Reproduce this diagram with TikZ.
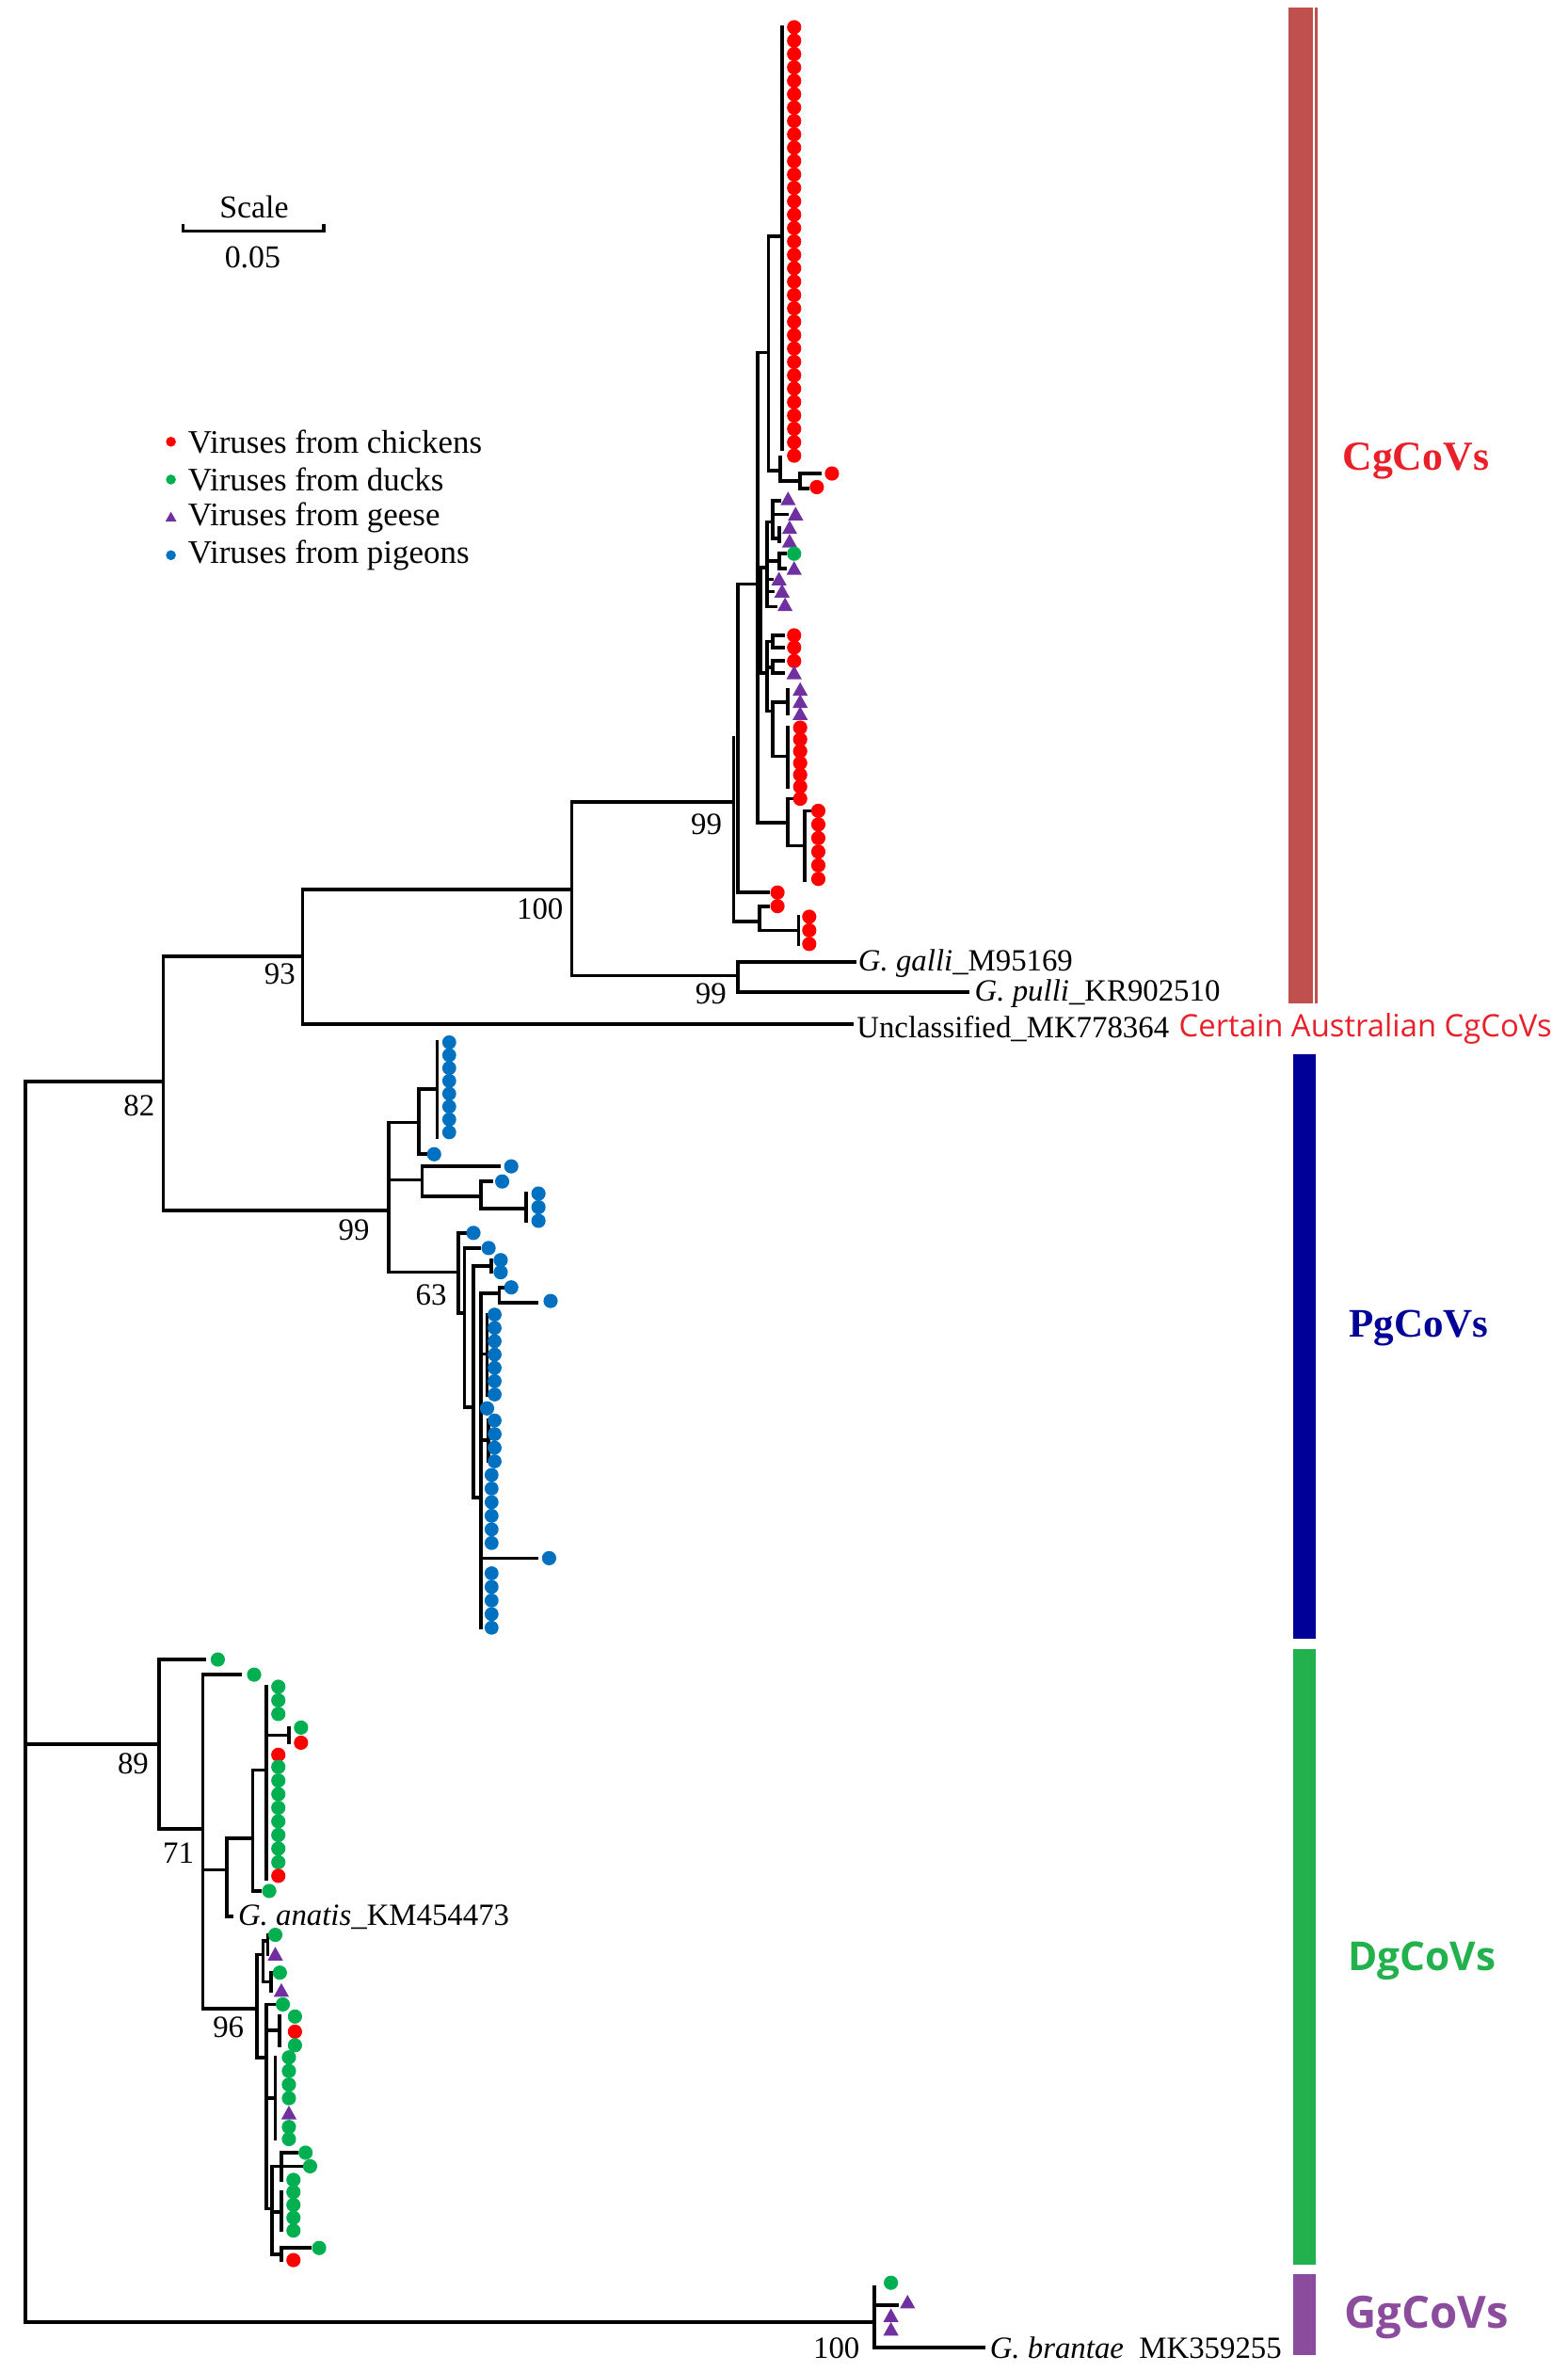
\documentclass[tikz,border=0pt]{standalone}
\usepackage{fontspec}
\setmainfont{Liberation Serif}
\newfontfamily\sansf{Open Sans}
\definecolor{cR}{HTML}{FF0000}
\definecolor{cG}{HTML}{00B050}
\definecolor{cPu}{HTML}{7030A0}
\definecolor{cB}{HTML}{0070C0}
\definecolor{barR}{HTML}{C0504D}
\definecolor{barB}{HTML}{000099}
\definecolor{barG}{HTML}{22B14C}
\definecolor{barP}{HTML}{8B4C9E}
\definecolor{txtR}{HTML}{E8202A}
\newcommand\tV[3]{\draw[tr] (#1,#2) -- (#1,#3);}
\newcommand\tH[3]{\draw[tr] (#2,#1) -- (#3,#1);}
\newcommand\Dt[3]{\fill[#1] (#2,#3) circle (2.15pt);}
\newcommand\Tri[2]{\fill[cPu] (#1,#2) ++(0pt,2.3pt) -- ++(-2.3pt,-4.1pt) -- ++(4.6pt,0pt) -- cycle;}
\begin{document}
\begin{tikzpicture}[x=0.016cm,y=-0.016cm,
  tr/.style={line width=1.05pt,line cap=rect},
  lab/.style={font=\fontsize{9.3}{11}\selectfont,inner sep=0pt},
  tip/.style={lab,anchor=west}]
\useasboundingbox (0,0) rectangle (1036,1568);

% ---------- scale bar ----------
\draw[line width=0.9pt] (121,148) -- (121,153) -- (214,153) -- (214,148);
\node[lab,font=\fontsize{9.6}{11}\selectfont] (scl) at (168,137) {Scale};
\node[lab,font=\fontsize{9.6}{11}\selectfont] (sclv) at (167,170) {0.05};

% ---------- legend ----------
\fill[cR] (113,292) circle (1.5pt);
\fill[cG] (113,317) circle (1.5pt);
\fill[cPu] (113,342) ++(0pt,1.7pt) -- ++(-1.7pt,-3pt) -- ++(3.4pt,0pt) -- cycle;
\fill[cB] (113,367) circle (1.5pt);
\node[lab,font=\fontsize{9.9}{11}\selectfont,anchor=west] (l1) at (124,292) {Viruses from chickens};
\node[lab,font=\fontsize{9.9}{11}\selectfont,anchor=west] (l2) at (124,317) {Viruses from ducks};
\node[lab,font=\fontsize{9.9}{11}\selectfont,anchor=west] (l3) at (124,342) {Viruses from geese};
\node[lab,font=\fontsize{9.9}{11}\selectfont,anchor=west] (l4) at (124,367) {Viruses from pigeons};

% ---------- backbone ----------
\tV{17}{715}{1535}
\tH{715}{17}{108}
\tH{1153}{17}{105}
\tH{1535}{17}{578}
\tV{108}{632}{800}
\tH{632}{108}{200}
\tH{800}{108}{257}
\tV{200}{588}{677}
\tH{588}{200}{378}
\tH{677}{200}{563}
\tV{378}{530}{645}
\tH{530}{378}{485}
\tH{645}{378}{488}
\tV{488}{636}{656}
\tH{636}{488}{565}
\tH{656}{488}{640}

% ---------- CgCoV clade ----------
\tV{485}{488}{609}
\tV{488}{386}{590}
\tH{386}{488}{501}
\tH{590}{488}{508} \Dt{cR}{514}{590}
\tH{609}{485}{502}
\tV{502}{599}{615}
\tH{599}{502}{508} \Dt{cR}{514}{599}
\tH{615}{502}{528}
\tV{528}{606}{624}
\Dt{cR}{535}{606} \Dt{cR}{535}{615} \Dt{cR}{535}{624}
% node C
\tV{501}{233}{544}
\tH{233}{501}{508}
\tV{508}{156}{311}
\tH{156}{508}{517}
\tV{517}{18}{297}
\foreach \k in {0,...,32} {\fill[cR] (525,18+8.85*\k) circle (2.15pt);}
\tH{311}{508}{516}
\tV{516}{302}{318}
\tH{318}{516}{529}
\tV{529}{313}{323}
\tH{313}{529}{542} \Dt{cR}{550}{313}
\tH{323}{529}{534} \Dt{cR}{540}{322}
% geese group
\tH{411}{501}{503}
\tV{503}{375}{445}
\tH{375}{503}{507}
\tV{507}{345}{401}
\tH{345}{507}{511}
\tV{511}{331}{356}
\tH{331}{511}{515} \Tri{521}{330}
\tH{340}{511}{520} \Tri{526}{340}
\tH{356}{511}{515}
\tV{515}{349}{358} \Tri{522}{349} \Tri{522}{358}
\tH{371}{507}{515}
\tV{515}{366}{376}
\tH{366}{515}{519} \Dt{cG}{525}{366}
\tH{376}{515}{519} \Tri{525}{376}
\tH{383}{507}{510} \Tri{515}{383}
\tH{391}{507}{511} \Tri{517}{391}
\tH{401}{507}{513} \Tri{519}{400}
% red group
\tH{445}{503}{507}
\tV{507}{424}{470}
\tH{424}{507}{511}
\tV{511}{420}{428}
\tH{420}{511}{518} \Dt{cR}{525}{420}
\tH{428}{511}{518} \Dt{cR}{525}{428}
\tH{441}{507}{511}
\tV{511}{437}{445}
\tH{437}{511}{518} \Dt{cR}{525}{437}
\tH{445}{511}{518} \Tri{525}{445}
\tH{470}{507}{511}
\tV{511}{464}{500}
\tH{464}{511}{521}
\tV{521}{456}{472}
\Tri{529}{456} \Tri{529}{464} \Tri{529}{472}
\tH{500}{511}{521}
\tV{521}{481}{520}
\foreach \k in {0,...,5} {\fill[cR] (529,481+7.8*\k) circle (2.15pt);}
\tH{544}{501}{521}
\tV{521}{528}{559}
\tH{528}{521}{524} \Dt{cR}{529}{528}
\tH{559}{521}{532}
\tV{532}{536}{582}
\tH{536}{532}{537}
\foreach \k in {0,...,5} {\fill[cR] (541,536+9*\k) circle (2.15pt);}

% ---------- PgCoV clade ----------
\tV{257}{742}{841}
\tH{742}{257}{277}
\tV{277}{720}{763}
\tH{720}{277}{289}
\tV{289}{689}{752}
\foreach \k in {0,...,7} {\fill[cB] (297,689+8.5*\k) circle (2.1pt);}
\tH{763}{277}{282} \Dt{cB}{287}{763}
\tH{780}{257}{279}
\tV{279}{771}{791}
\tH{771}{279}{330} \Dt{cB}{338}{771}
\tH{791}{279}{318}
\tV{318}{781}{799}
\tH{781}{318}{325} \Dt{cB}{332}{781}
\tH{799}{318}{348}
\tV{348}{789}{807}
\Dt{cB}{356}{789} \Dt{cB}{356}{798} \Dt{cB}{356}{807}
% node 63
\tH{841}{257}{303}
\tV{303}{815}{868}
\tH{815}{303}{308} \Dt{cB}{313}{815}
\tH{868}{303}{307}
\tV{307}{825}{930}
\tH{825}{307}{317} \Dt{cB}{323}{825}
\tH{930}{307}{313}
\tV{313}{837}{990}
\tH{837}{313}{325}
\tV{325}{833}{841}
\Dt{cB}{331}{833} \Dt{cB}{331}{841}
\tH{990}{313}{318}
\tV{318}{855}{1076}
\tH{855}{318}{330}
\tV{330}{851}{861}
\tH{851}{330}{333} \Dt{cB}{338}{851}
\tH{861}{330}{355} \Dt{cB}{364}{860}
\tH{895}{318}{322}
\tV{322}{869}{922}
\foreach \k in {0,...,6} {\fill[cB] (327,869+8.8*\k) circle (2.1pt);}
\Dt{cB}{322}{931}
\tH{952}{318}{323}
\tV{323}{939}{966}
\foreach \k in {0,...,3} {\fill[cB] (327,939+9*\k) circle (2.1pt);}
\foreach \k in {0,...,5} {\fill[cB] (325,975+9*\k) circle (2.1pt);}
\tH{1030}{318}{355} \Dt{cB}{363}{1030}
\foreach \k in {0,...,4} {\fill[cB] (325,1040+9*\k) circle (2.1pt);}

% ---------- DgCoV clade ----------
\tV{105}{1097}{1209}
\tH{1097}{105}{135} \Dt{cG}{144}{1097}
\tH{1209}{105}{134}
\tV{134}{1107}{1328}
\tH{1107}{134}{159} \Dt{cG}{168}{1107}
\tH{1236}{134}{150}
\tV{150}{1215}{1267}
\tH{1267}{150}{153}
\tH{1215}{150}{167}
\tV{167}{1170}{1250}
\tH{1250}{167}{172} \Dt{cG}{178}{1250}
\tH{1170}{167}{176}
\tV{176}{1115}{1242}
\Dt{cG}{184}{1115} \Dt{cG}{184}{1124} \Dt{cG}{184}{1133}
\tH{1147}{176}{191}
\tV{191}{1142}{1152}
\Dt{cG}{199}{1142} \Dt{cR}{199}{1152}
\Dt{cR}{184}{1160}
\foreach \k in {0,...,7} {\fill[cG] (184,1168+9*\k) circle (2.15pt);}
\Dt{cR}{184}{1240}
% node 96
\tH{1328}{134}{170}
\tV{170}{1292}{1360}
\tH{1292}{170}{174}
\tV{174}{1283}{1310}
\tH{1283}{174}{177}
\tV{177}{1279}{1292}
\Dt{cG}{182}{1279} \Tri{182}{1292}
\tH{1310}{174}{179}
\tV{179}{1304}{1316}
\Dt{cG}{185}{1304} \Tri{186}{1316}
\tH{1360}{170}{176}
\tV{176}{1325}{1460}
\tH{1325}{176}{181} \Dt{cG}{187}{1325}
\tH{1342}{176}{185}
\tV{185}{1333}{1352}
\Dt{cG}{195}{1333} \Dt{cR}{195}{1343} \Dt{cG}{195}{1352}
\tH{1387}{176}{182}
\tV{182}{1360}{1414}
\Dt{cG}{191}{1360} \Dt{cG}{191}{1369} \Dt{cG}{191}{1378} \Dt{cG}{191}{1387}
\Tri{191}{1397} \Dt{cG}{191}{1406} \Dt{cG}{191}{1414}
\tH{1460}{176}{180}
\tV{180}{1432}{1490}
\tH{1432}{180}{186}
\tV{186}{1423}{1441}
\tH{1423}{186}{196} \Dt{cG}{202}{1423}
\tH{1432}{186}{199} \Dt{cG}{205}{1432}
\Dt{cG}{194}{1441}
\tH{1462}{180}{186}
\tV{186}{1449}{1474}
\foreach \k in {0,...,3} {\fill[cG] (194,1449+8.5*\k) circle (2.15pt);}
\tH{1490}{180}{186}
\tV{186}{1486}{1494}
\tH{1486}{186}{205} \Dt{cG}{211}{1486}
\Dt{cR}{194}{1494}

% ---------- GgCoV clade ----------
\tV{578}{1512}{1552}
\Dt{cG}{589}{1509}
\tH{1524}{578}{593} \Tri{600}{1522}
\Tri{589}{1531} \Tri{589}{1540}
\tH{1552}{578}{650}

% ---------- support values ----------
\node[lab] (b82) at (92,731) {82};
\node[lab] (b93) at (185,644) {93};
\node[lab] (b100a) at (357,601) {100};
\node[lab] (b99a) at (467,545) {99};
\node[lab] (b99b) at (470,657) {99};
\node[lab] (b99c) at (234,813) {99};
\node[lab] (b63) at (285,856) {63};
\node[lab] (b89) at (88,1166) {89};
\node[lab] (b71) at (118,1225) {71};
\node[lab] (b96) at (151,1340) {96};
\node[lab] (b100b) at (553,1552) {100};

% ---------- tip labels ----------
\node[tip] (tg) at (567,637) {\textit{G. galli}\_M95169};
\node[tip] (tp) at (644,657) {\textit{G. pulli}\_KR902510};
\node[tip] (tu) at (566,680) {Unclassified\_MK778364};
\node[tip] (ta) at (157,1267) {\textit{G. anatis}\_KM454473};
\node[tip] (tb) at (654,1552) {\textit{G. brantae}\ \ MK359255};
\node[anchor=west,inner sep=0pt,text=txtR,font=\sansf\fontsize{9.3}{11}\selectfont] (aus) at (779,680) {Certain Australian CgCoVs};

% ---------- clade bars ----------
\fill[barR] (852,5) rectangle (868,663);
\fill[barR] (869.5,5) rectangle (871,663);
\fill[barB] (855,697) rectangle (870,1083);
\fill[barG] (855,1090) rectangle (870,1497);
\fill[barP] (855,1503) rectangle (870,1557);
\node[text=txtR,font=\bfseries\fontsize{12.4}{14}\selectfont] (cg) at (936,305) {CgCoVs};
\node[text=barB,font=\bfseries\fontsize{12.2}{14}\selectfont] (pg) at (938,878) {PgCoVs};
\node[text=barG,font=\sansf\bfseries\fontsize{12}{14}\selectfont] (dg) at (940,1296) {DgCoVs};
\node[text=barP,font=\sansf\bfseries\fontsize{13.4}{15}\selectfont] (gg) at (943,1532) {GgCoVs};
\end{tikzpicture}
\end{document}
